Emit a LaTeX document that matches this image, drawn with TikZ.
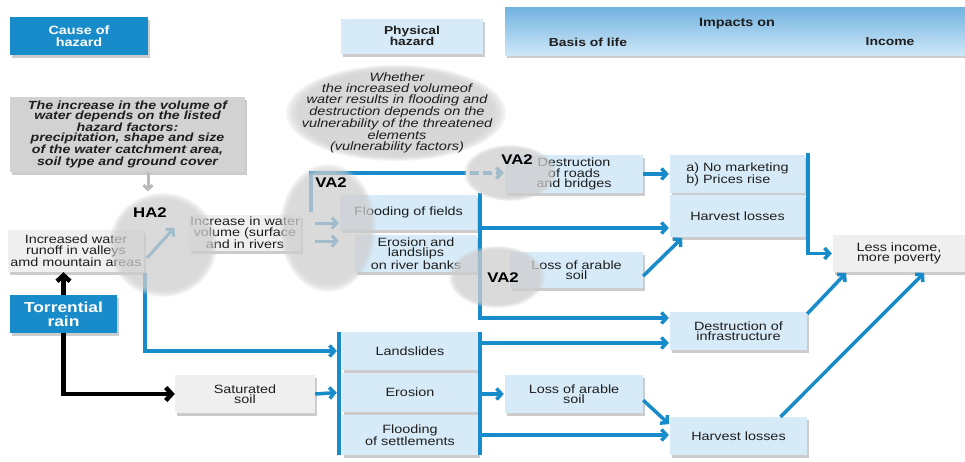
\documentclass[tikz,border=0pt]{standalone}
\usepackage{fontspec}
\setmainfont[FakeStretch=1.2]{Liberation Sans}
\usetikzlibrary{arrows.meta,shadows}
\definecolor{dblue}{RGB}{24,140,202}
\definecolor{lblue}{RGB}{214,234,248}
\definecolor{lgray}{RGB}{239,239,239}
\definecolor{mgray}{RGB}{210,210,210}
\definecolor{blobc}{RGB}{208,208,208}
\definecolor{txt}{RGB}{30,30,30}
\definecolor{btop}{RGB}{112,178,224}
\definecolor{bbot}{RGB}{206,231,247}
\definecolor{garr}{RGB}{185,185,185}
\newcommand{\rf}{\fontsize{12}{10.5}\selectfont}
% soft blob: stacked translucent ellipses
\newcommand{\softblob}[4]{%
  \foreach \k in {1.00,0.98,0.96,0.94,0.92,0.90,0.88}{%
    \fill[blobc, fill opacity=#4] #1 ellipse [x radius=\k*#2, y radius=\k*#3];}}
\begin{document}
\begin{tikzpicture}[x=1pt,y=-1pt,
  boxbase/.style={inner sep=1pt, align=center, text=txt, font=\rf,
    drop shadow={shadow xshift=2pt, shadow yshift=-3pt, opacity=0.2, fill=black}},
  lbox/.style={boxbase, fill=lblue},
  gbox/.style={boxbase, fill=lgray},
  dbox/.style={boxbase, fill=dblue, text=white},
  bline/.style={draw=dblue, line width=3.5pt},
  bconn/.style={bline, -{Straight Barb[length=5pt,width=11pt]}, shorten >=1pt},
  garrow/.style={draw=garr, line width=3pt, -{Straight Barb[length=4pt,width=9pt]}},
  blk/.style={draw=black, line width=4.5pt, -{Straight Barb[length=6pt,width=13pt]}},
  vlab/.style={font=\bfseries\fontsize{14}{14}\selectfont, text=black, inner sep=0pt},
]
\useasboundingbox (0,0) rectangle (965,461);
\fill[white] (0,0) rectangle (965,461);

% headers
\node[dbox, font=\bfseries\fontsize{12}{11.5}\selectfont, minimum width=138pt, minimum height=38pt] (cause) at (79,36) {Cause of\\hazard};
\node[lbox, font=\bfseries\fontsize{11.5}{11}\selectfont, minimum width=142pt, minimum height=35pt] (phys) at (412,36) {Physical\\hazard};
\node[boxbase, top color=btop, bottom color=bbot, minimum width=460pt, minimum height=48pt] (imp) at (735,31) {};
\node[font=\bfseries\fontsize{12}{12}\selectfont, text=txt] (impt) at (737,24) {Impacts on};
\node[font=\bfseries\fontsize{11.6}{12}\selectfont, text=txt] (basis) at (588,42) {Basis of life};
\node[font=\bfseries\fontsize{11.6}{12}\selectfont, text=txt] (incm) at (890,42) {Income};

% gray factor box
\node[boxbase, fill=mgray, font=\bfseries\itshape\fontsize{11.8}{10}\selectfont, minimum width=235pt, minimum height=75pt] (gray) at (127.5,134.5) {The increase in the volume of\\water depends on the listed\\hazard factors:\\precipitation, shape and size\\of the water catchment area,\\soil type and ground cover};

% boxes
\node[gbox, minimum width=136pt, minimum height=42pt] (runoff) at (76,251) {Increased water\\runoff in valleys\\amd mountain areas};
\node[gbox, minimum width=108pt, minimum height=36pt] (incr) at (245,233) {Increase in water\\volume (surface\\and in rivers};
\node[lbox, minimum width=137pt, minimum height=35pt] (ffields) at (408.5,212.5) {Flooding of fields};
\node[lbox, minimum width=122pt, minimum height=37pt] (erob) at (416,253.5) {Erosion and\\landslips\\on river banks};
\node[lbox, minimum width=138pt, minimum height=38pt] (roads) at (574,174) {Destruction\\of roads\\and bridges};
\node[lbox, align=left, minimum width=135pt, minimum height=38pt] (nomark) at (737.5,174) {a) No marketing\\b) Prices rise};
\node[lbox, minimum width=135pt, minimum height=42pt] (harvest1) at (737.5,216) {Harvest losses};
\node[lbox, minimum width=133pt, minimum height=36pt] (loss1) at (576.5,270) {Loss of arable\\soil};
\node[gbox, minimum width=132pt, minimum height=37pt] (income) at (899,253.5) {Less income,\\more poverty};
\node[lbox, minimum width=137pt, minimum height=38pt] (infra) at (738.5,331) {Destruction of\\infrastructure};
\node[lbox, minimum width=137pt, minimum height=38pt] (harvest2) at (738.5,436) {Harvest losses};
\node[dbox, font=\bfseries\fontsize{14.5}{14}\selectfont, minimum width=107pt, minimum height=38pt] (torr) at (63.5,314) {Torrential\\rain};
\node[gbox, minimum width=140pt, minimum height=38pt] (satsoil) at (245,394) {Saturated\\soil};
\node[lbox, minimum width=136pt, minimum height=38pt] (landslides) at (410,351) {Landslides};
\node[lbox, minimum width=136pt, minimum height=39pt] (erosion2) at (410,392.5) {Erosion};
\node[lbox, minimum width=136pt, minimum height=40pt] (floodset) at (410,435) {Flooding\\of settlements};
\node[lbox, minimum width=138pt, minimum height=38pt] (loss2) at (574,394) {Loss of arable\\soil};

% coordinates
\coordinate (hA) at (147,258); \coordinate (hB) at (175,227);
\coordinate (vA) at (145,273);
\coordinate (sa1) at (315,223); \coordinate (sa2) at (315,241);
\coordinate (d0) at (311,212); \coordinate (d1) at (457,173);
\coordinate (r0) at (480,193); \coordinate (r1) at (480,228); \coordinate (r2) at (480,318);
\coordinate (q0) at (808,153);
\coordinate (c1) at (480,343); \coordinate (c2) at (480,394); \coordinate (c3) at (480,435);

% connectors
\draw[garrow] ([xshift=20.5pt]gray.south) -- ++(0,19);
\draw[bconn, line width=3pt] (hA) -- (hB);
\draw[bconn] (vA) |- ([xshift=-4pt]landslides.west);
\draw[bconn, line width=3pt] (sa1) -- (sa1 -| ffields.west);
\draw[bconn, line width=3pt] (sa2) -- (sa2 -| ffields.west);
\draw[bline] (d0) |- (d1);
\draw[bconn, dash pattern=on 9pt off 4pt] (d1) -- (d1 -| roads.west);
\draw[bconn] (r0) -- (r2) -- (r2 -| infra.west);
\draw[bconn] (r1) -- (r1 -| harvest1.west);
\draw[bconn] (roads.east) -- (nomark.west);
\draw[bconn] ([yshift=-6pt]loss1.east) -- ([xshift=13pt]harvest1.south west);
\draw[bconn] (q0) |- (income.west);
\draw[bconn] ([yshift=-2pt]infra.north east) -- ([xshift=14pt]income.south west);
\draw[bconn] ([xshift=42pt]harvest2.north) -- ([xshift=92pt]income.south west);
\draw[blk] (torr.north) -- (torr.north |- runoff.south);
\draw[blk] (torr.south) |- (satsoil.west);
\draw[bconn] (satsoil.east) -- ([xshift=-4pt]erosion2.west);
\draw[bline] ([xshift=-3pt]landslides.north west) -- ([xshift=-3pt]floodset.south west);
\draw[bline] ([xshift=2pt]landslides.north east) -- ([xshift=2pt]floodset.south east);
\draw[bconn] (c1) -- (c1 -| infra.west);
\draw[bconn] (c2) -- (loss2.west);
\draw[bconn] (c3) -- (c3 -| harvest2.west);
\draw[bconn] ([yshift=13pt]loss2.south east) -- ([yshift=-8pt]harvest2.north west);

% soft grey blobs over the boxes
\softblob{(163,245)}{54pt}{52pt}{0.18}
\softblob{(328,228)}{48pt}{64pt}{0.18}
\softblob{(510,173)}{46pt}{28pt}{0.18}
\softblob{(497,277)}{48pt}{31pt}{0.18}
\softblob{(396,113)}{110pt}{48pt}{0.22}

\node[font=\itshape\fontsize{12.1}{10.6}\selectfont, text=txt, align=center] (whether) at (397,113) {Whether\\the increased volumeof\\water results in flooding and\\destruction depends on the\\vulnerability of the threatened\\elements\\(vulnerability factors)};

\node[vlab] (ha2) at (150,213) {HA2};
\node[vlab] (va2a) at (331,183) {VA2};
\node[vlab] (va2b) at (517,160) {VA2};
\node[vlab] (va2c) at (503,278) {VA2};
\end{tikzpicture}
\end{document}
